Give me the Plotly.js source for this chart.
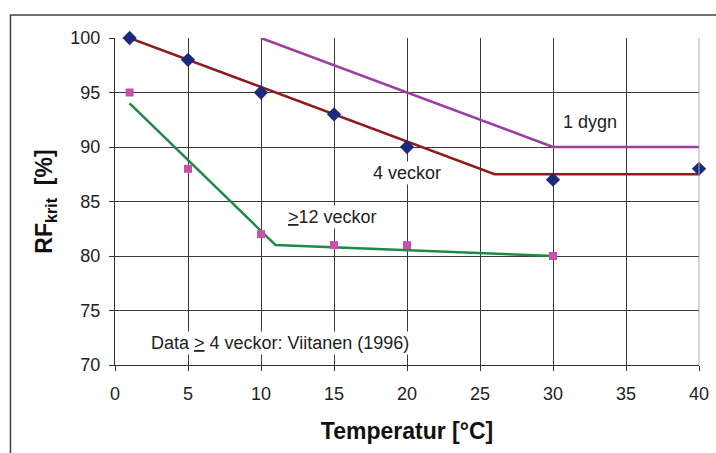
<!DOCTYPE html>
<html><head><meta charset="utf-8">
<script src="https://cdn.plot.ly/plotly-3.0.1.min.js"></script>
<style>html,body{margin:0;padding:0;background:#fff}#c{width:716px;height:453px}</style>
</head><body><div id="c"></div>
<script>
const dygnX = [10, 30, 40];
const dygnY = [100, 90, 90];
const veckor4X = [1, 26, 40];
const veckor4Y = [100, 87.5, 87.5];
const veckor12X = [1, 11, 30];
const veckor12Y = [94, 81, 80];
const diamondX = [1, 5, 10, 15, 20, 30, 40];
const diamondY = [100, 98, 95, 93, 90, 87, 88];
const squareX = [1, 5, 10, 15, 20, 30];
const squareY = [95, 88, 82, 81, 81, 80];
const xTicks = [0, 5, 10, 15, 20, 25, 30, 35, 40];
const yTicks = [70, 75, 80, 85, 90, 95, 100];

const traces = [
  {x: dygnX, y: dygnY, mode: 'lines', line: {color: '#9c3ea0', width: 2.5}, cliponaxis: false},
  {x: veckor4X, y: veckor4Y, mode: 'lines', line: {color: '#8e1c1c', width: 2.5}, cliponaxis: false},
  {x: veckor12X, y: veckor12Y, mode: 'lines', line: {color: '#1e8a44', width: 2.5}, cliponaxis: false},
  {x: diamondX, y: diamondY, mode: 'markers', marker: {symbol: 'diamond', color: '#1c2a7a', size: 11}, cliponaxis: false},
  {x: squareX, y: squareY, mode: 'markers', marker: {symbol: 'square', color: '#cc4fae', size: 8}, cliponaxis: false}
];
const fam = 'Liberation Sans, Arial, sans-serif';
const tf = {size: 18, family: fam, color: '#222'};
const layout = {
  width: 716, height: 453,
  margin: {l: 115, r: 17, t: 38, b: 88},
  showlegend: false,
  paper_bgcolor: '#fff', plot_bgcolor: '#fff',
  font: {family: fam, color: '#222'},
  xaxis: {range: [0, 40], tickvals: xTicks, ticktext: xTicks.map(String), showgrid: true, gridcolor: '#3a3a3a', gridwidth: 1,
    zeroline: false, showline: true, linecolor: '#333', linewidth: 1, ticks: 'outside', ticklen: 5, tickcolor: '#333',
    ticklabelstandoff: 7, tickfont: tf,
    title: {text: '<b>Temperatur [°C]</b>', font: {size: 23, family: fam, color: '#111'}, standoff: 20}},
  yaxis: {range: [70, 100], tickvals: yTicks, ticktext: yTicks.map(String), showgrid: true, gridcolor: '#3a3a3a', gridwidth: 1,
    zeroline: false, showline: true, linecolor: '#333', linewidth: 1, ticks: 'outside', ticklen: 5, tickcolor: '#333',
    ticklabelstandoff: 5, tickfont: tf,
    title: {text: '<b>RF<sub>krit</sub>  [%]</b>', font: {size: 23, family: fam, color: '#111'}, standoff: 11}},
  shapes: [
    {type: 'line', xref: 'paper', yref: 'paper', x0: 1, x1: 1, y0: 0, y1: 1, line: {color: '#aaa', width: 1}},
    {type: 'rect', xref: 'paper', yref: 'paper', x0: -0.179, x1: 1.04, y0: -0.3, y1: 1.07, line: {color: '#444', width: 1.5}, layer: 'below'}
  ],
  annotations: [
    {x: 32.5, y: 92.3, text: '1 dygn', showarrow: false, bgcolor: '#fff', font: tf},
    {x: 20, y: 87.6, text: '4 veckor', showarrow: false, bgcolor: '#fff', font: tf},
    {x: 14.9, y: 83.6, text: '<u>&gt;</u>12 veckor', showarrow: false, bgcolor: '#fff', font: tf},
    {x: 11.3, y: 72.0, text: 'Data <u>&gt;</u> 4 veckor: Viitanen (1996)', showarrow: false, bgcolor: '#fff', font: tf}
  ]
};
Plotly.newPlot('c', traces, layout, {displayModeBar: false, staticPlot: true});
</script></body></html>
